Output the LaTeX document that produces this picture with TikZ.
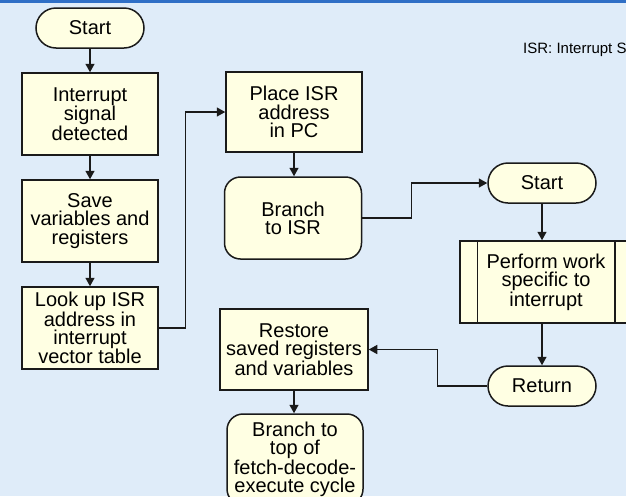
\documentclass[tikz,border=0pt]{standalone}
\usepackage{fontspec}
\setmainfont{Liberation Sans}
\usetikzlibrary{arrows.meta}
\definecolor{bg}{HTML}{DFECF9}
\definecolor{bar}{HTML}{2F6FC6}
\definecolor{boxfill}{HTML}{FFFFE3}
\definecolor{ink}{HTML}{1A1A1A}
\begin{document}
\begin{tikzpicture}[x=1pt,y=-1pt,
  base/.style={draw=ink, fill=boxfill, line width=1.5pt, inner sep=0pt, align=center,
    font=\fontsize{20}{18.3}\selectfont},
  proc/.style={base, rectangle},
  term/.style={base, rectangle, rounded corners=20pt, minimum width=108pt, minimum height=40pt},
  rbox/.style={base, rectangle, rounded corners=16pt},
  conn/.style={draw=ink, line width=1.4pt, -{Triangle[length=8.5pt,width=9pt]}},
  edge/.style={draw=ink, line width=1.5pt},
]
\useasboundingbox (0,0) rectangle (626,496);
\clip (0,0) rectangle (626,496);
\fill[bg] (0,0) rectangle (626,496);
\fill[bar] (0,0) rectangle (626,3);

% left column
\node[term] (s1) at (90,28) {Start};
\node[proc, minimum width=136pt, minimum height=82pt] (intr) at (90,114) {Interrupt\\signal\\detected};
\node[proc, minimum width=136pt, minimum height=82pt] (save) at (90,221) {Save\\variables and\\registers};
\node[proc, minimum width=136pt, minimum height=82pt] (look) at (90,328) {Look up ISR\\address in\\interrupt\\vector table};

% middle column
\node[proc, minimum width=136pt, minimum height=80pt] (place) at (294,112) {Place ISR\\address\\in PC};
\node[rbox, minimum width=137pt, minimum height=82pt] (bisr) at (293,218) {Branch\\to ISR};
\node[proc, minimum width=148pt, minimum height=81pt] (rest) at (294,349.5) {Restore\\saved registers\\and variables};
\node[rbox, minimum width=136pt, minimum height=91pt] (btop) at (295,459.5) {Branch to\\top of\\fetch-decode-\\execute cycle};

% right column
\node[term] (s2) at (542,183) {Start};
\node[proc, minimum width=172pt, minimum height=82pt] (work) at (546,282) {Perform work\\specific to\\interrupt};
\draw[edge] ([xshift=18pt]work.north west) -- ([xshift=18pt]work.south west);
\draw[edge] ([xshift=-18pt]work.north east) -- ([xshift=-18pt]work.south east);
\node[term] (ret) at (542,386) {Return};

% note
\node[anchor=base west, inner sep=0pt, font=\fontsize{15}{18}\selectfont] (note) at (523,53) {ISR: Interrupt S};

% connectors
\draw[conn] (s1) -- (intr);
\draw[conn] (intr) -- (save);
\draw[conn] (save) -- (look);
\draw[conn] (look.east) -- ++(27,0) |- (place.west);
\draw[conn] (place.south) -- (place.south |- bisr.north);
\draw[conn] (bisr.east) -- ++(49,0) |- (s2.west);
\draw[conn] (s2.south) -- (s2.south |- work.north);
\draw[conn] (s2.south |- work.south) -- (ret.north);
\draw[conn] (ret.west) -- ++(-50,0) |- (rest.east);
\draw[conn] (rest.south) -- (rest.south |- btop.north);
\end{tikzpicture}
\end{document}
